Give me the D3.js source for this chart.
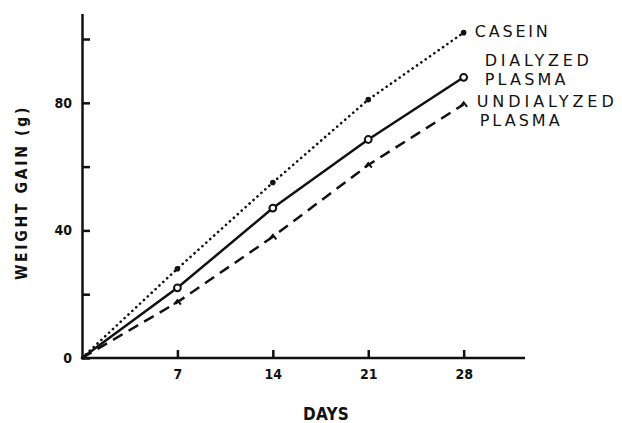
<!DOCTYPE html>
<html><head><meta charset="utf-8">
<script src="https://cdn.jsdelivr.net/npm/d3@7"></script>
<style>
body{margin:0;background:#fff;}
svg{display:block;}
.narrow{font-family:"DejaVu Sans Condensed","Liberation Sans Narrow","Arial Narrow",sans-serif;font-weight:bold;fill:#111;}
.lab{font-family:"DejaVu Sans",sans-serif;fill:#111;}
</style></head>
<body>
<script>
const days = [0, 7, 14, 21, 28];
const casein = [0, 28, 55, 81, 102];
const dialyzed = [0, 22, 47, 68.5, 88];
const undialyzed = [0, 17.5, 38, 60.5, 79.5];
const seriesNames = [["CASEIN"], ["DIALYZED", "PLASMA"], ["UNDIALYZED", "PLASMA"]];
const xTicks = [7, 14, 21, 28];
const yTicks = [0, 20, 40, 60, 80, 100];
const yTickLabels = [0, 40, 80];

const W = 622, H = 423;
const svg = d3.select("body").append("svg").attr("width", W).attr("height", H);

// stretch a text/tspan element to a target width by letter-spacing
function fit(t, target) {
  const n = t.text().length;
  const nat = t.node().getComputedTextLength();
  t.style("letter-spacing", ((target - nat) / Math.max(n, 1)) + "px");
  return t;
}

const x = d3.scaleLinear().domain([0, 32.5]).range([82, 525]);
const y = d3.scaleLinear().domain([0, 108]).range([358, 13.5]);

// axes
const xAxis = d3.axisBottom(x).tickValues(xTicks).tickSize(-8).tickSizeOuter(0).tickPadding(11).tickFormat(d3.format("d"));
const gx = svg.append("g").attr("transform", `translate(0,${y(0)})`).call(xAxis);
const yAxis = d3.axisLeft(y).tickValues(yTicks).tickSize(-8).tickSizeOuter(0).tickPadding(10)
  .tickFormat(d => yTickLabels.includes(d) ? d : "");
const gy = svg.append("g").attr("transform", `translate(${x(0)},0)`).call(yAxis);
[gx, gy].forEach(g => {
  g.selectAll("path, line").attr("stroke", "#111").attr("stroke-width", 2.5);
  g.selectAll("text").attr("class", "narrow").style("font-size", "14px").attr("fill", "#111");
});
gx.select(".domain").attr("d", `M${x(0)-1},0H${x(32.5)}`);

// axis titles
fit(svg.append("text").attr("class", "narrow").attr("x", 303).attr("y", 420)
  .style("font-size", "17px").text("DAYS"), 46);
fit(svg.append("text").attr("class", "narrow")
  .attr("transform", "translate(27,280) rotate(-90)")
  .style("font-size", "15.5px").text("WEIGHT GAIN (g)"), 175);

const line = d3.line().x(d => x(d[0])).y(d => y(d[1]));
const series = [
  {vals: casein, dash: "0.1 5.2", cap: "round"},
  {vals: dialyzed, dash: null, cap: "butt"},
  {vals: undialyzed, dash: "11 7", cap: "butt"}
];
series.forEach((s, i) => {
  const pts = days.map((d, j) => [d, s.vals[j]]);
  svg.append("path").datum(pts).attr("d", line).attr("fill", "none")
    .attr("stroke", "#111").attr("stroke-width", i === 0 ? 2.6 : 2.5)
    .attr("stroke-dasharray", s.dash).attr("stroke-linecap", s.cap);
  const mp = pts.slice(1);
  if (i === 0) {
    svg.selectAll(null).data(mp).enter().append("circle")
      .attr("cx", d => x(d[0])).attr("cy", d => y(d[1])).attr("r", 2.8).attr("fill", "#111");
  } else if (i === 1) {
    svg.selectAll(null).data(mp).enter().append("circle")
      .attr("cx", d => x(d[0])).attr("cy", d => y(d[1])).attr("r", 3.4)
      .attr("fill", "#fff").attr("stroke", "#111").attr("stroke-width", 2);
  } else {
    svg.selectAll(null).data(mp).enter().append("path")
      .attr("d", d => `M${x(d[0])-3.5},${y(d[1])+2.5}L${x(d[0])},${y(d[1])-2}L${x(d[0])+3.5},${y(d[1])+2.5}`)
      .attr("fill", "none").attr("stroke", "#111").attr("stroke-width", 2);
  }
});

// series labels at line ends (one text element per series, lines as tspans)
const labelLayout = [
  {dx: [11], dy: [4], len: [76]},
  {dx: [21, 21], dy: [-11, 8], len: [108, 84]},
  {dx: [13, 16], dy: [3, 22], len: [141, 83]}
];
const ends = [casein, dialyzed, undialyzed].map(v => [days[days.length-1], v[v.length-1]]);
seriesNames.forEach((names, i) => {
  const e = ends[i], L = labelLayout[i];
  const t = svg.append("text").attr("class", "lab").style("font-size", "16px");
  names.forEach((n, k) => {
    fit(t.append("tspan")
      .attr("x", x(e[0]) + L.dx[k])
      .attr("y", y(e[1]) + L.dy[k])
      .text(n), L.len[k]);
  });
});
</script>
</body></html>
